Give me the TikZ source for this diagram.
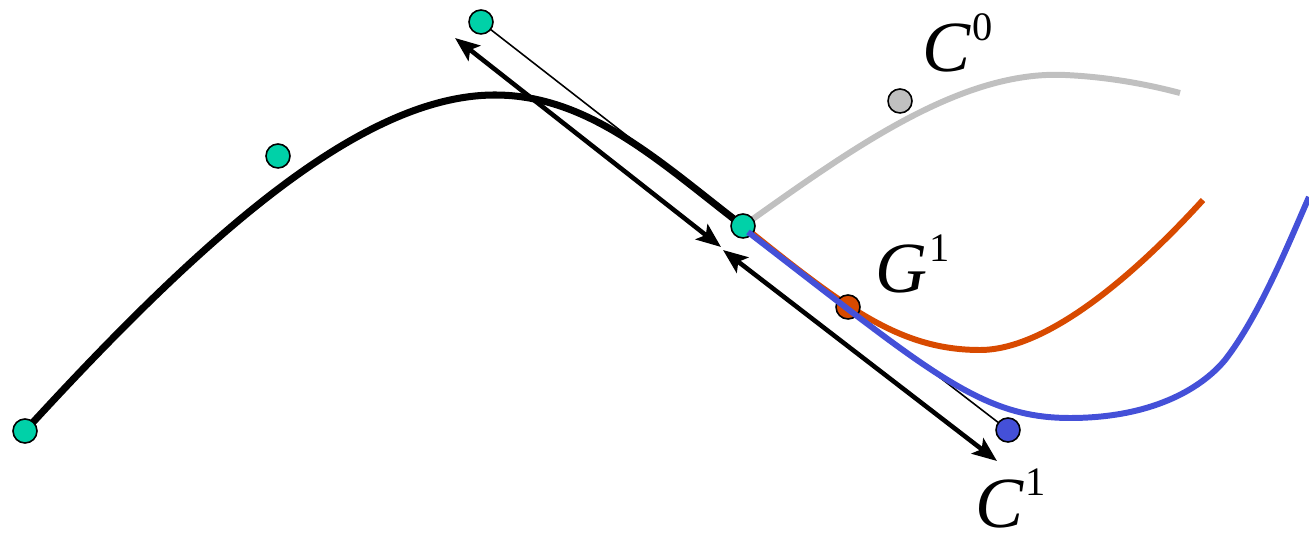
\documentclass[tikz,border=0pt]{standalone}
\usepackage{fontspec}
\setmainfont{Liberation Serif}
\usetikzlibrary{arrows.meta}
\definecolor{teal1}{RGB}{0,209,168}
\definecolor{orange1}{RGB}{216,74,0}
\definecolor{blue1}{RGB}{68,80,216}
\definecolor{gray1}{RGB}{192,192,192}
\newcommand{\curvelabel}[2]{\fontsize{41}{44}\selectfont\textit{#1}\kern1pt\raisebox{18pt}{\fontsize{23}{24}\selectfont #2}}

\begin{document}
\begin{tikzpicture}[x=0.02cm, y=-0.02cm,
    ctrl/.style={circle, draw=black, line width=0.9pt, minimum size=0.48cm, inner sep=0pt},
    curve line/.style={line width=3.4pt},
    thin line/.style={line width=0.9pt},
    tangent/.style={line width=2.6pt, {Stealth[length=14pt,width=11pt,inset=3pt]}-{Stealth[length=14pt,width=11pt,inset=3pt]}},
    lbl/.style={anchor=base west, inner sep=0pt}]
    \useasboundingbox (0,0) rectangle (1309,540);
    \coordinate (P0) at (25,431);
    \coordinate (P1) at (278,156);
    \coordinate (P2) at (481,22);
    \coordinate (P3) at (743,226);
    \coordinate (Q) at (1008,430);
    \coordinate (a1) at (455,38);
    \coordinate (a2) at (721,247);
    \coordinate (a3) at (723,250);
    \coordinate (a4) at (997,461);

    \draw[thin line] (P2) -- (P3) -- (Q);

    \draw[line width=4pt] (P0) .. controls (200,240) and (360,95) .. (495,95)
        .. controls (590,95) and (662,164) .. (P3);
    \draw[curve line, gray1] (P3) .. controls (850,150) and (960,70) .. (1065,75)
        .. controls (1110,77) and (1150,85) .. (1180,93);
    \draw[curve line, orange1] (P3) .. controls (845,308) and (900,350) .. (980,350)
        .. controls (1045,350) and (1130,280) .. (1203,200);

    \draw[tangent] (a1) -- (a2);
    \draw[tangent] (a3) -- (a4);

    \node[ctrl, fill=teal1] (n0) at (P0) {};
    \node[ctrl, fill=teal1] (n1) at (P1) {};
    \node[ctrl, fill=teal1] (n2) at (P2) {};
    \node[ctrl, fill=teal1] (n3) at (P3) {};
    \node[ctrl, fill=gray1] (c0pt) at (900,101) {};
    \node[ctrl, fill=orange1] (g1pt) at (848,307) {};

    \draw[curve line, blue1] (748,232) .. controls (930,372) and (980,418) .. (1070,418)
        .. controls (1150,418) and (1200,390) .. (1225,360)
        .. controls (1260,315) and (1290,240) .. (1309,197);
    \node[ctrl, fill=blue1] (c1pt) at (Q) {};

    \node[lbl] (c0) at (922,72) {\curvelabel{C}{0}};
    \node[lbl] (g1) at (875,293) {\curvelabel{G}{1}};
    \node[lbl] (c1) at (975,527) {\curvelabel{C}{1}};
\end{tikzpicture}
\end{document}
